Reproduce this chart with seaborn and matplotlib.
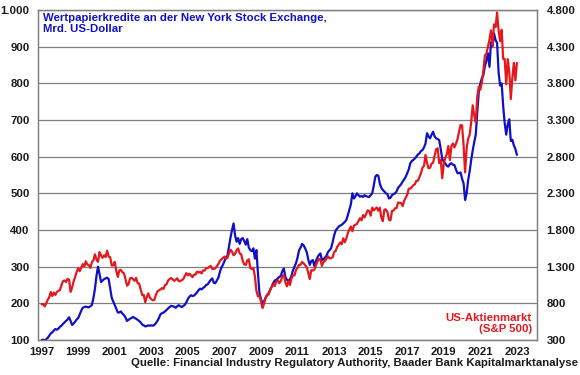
import numpy as np
import pandas as pd
import matplotlib
matplotlib.use("Agg")
import matplotlib.pyplot as plt
from matplotlib.ticker import FuncFormatter
import seaborn as sns

# Wertpapierkredite NYSE/FINRA, Mrd. US-Dollar (monatlich ab Jan 1997)
margin_debt = [
    100, 101, 99, 102, 106, 112, 118, 121, 126, 130, 128, 131,      # 1997
    136, 139, 144, 148, 152, 156, 162, 152, 141, 145, 150, 156,     # 1998
    160, 170, 180, 188, 190, 191, 190, 189, 192, 196, 215, 240,     # 1999
    275, 300, 280, 258, 262, 266, 268, 270, 266, 240, 215, 205,     # 2000
    195, 185, 175, 175, 178, 172, 168, 162, 152, 155, 158, 160,     # 2001
    163, 160, 158, 155, 152, 148, 142, 140, 137, 138, 140, 139,     # 2002
    140, 139, 141, 146, 152, 160, 170, 173, 175, 178, 182, 186,     # 2003
    190, 193, 192, 191, 188, 192, 195, 192, 190, 193, 196, 203,     # 2004
    212, 218, 222, 220, 221, 225, 230, 236, 240, 238, 242, 245,     # 2005
    250, 252, 258, 264, 268, 256, 255, 262, 270, 285, 298, 305,     # 2006
    315, 325, 330, 355, 380, 400, 418, 385, 368, 378, 362, 375,     # 2007
    378, 370, 360, 375, 352, 345, 342, 350, 322, 345, 282, 228,     # 2008
    212, 200, 205, 215, 222, 228, 236, 245, 255, 262, 264, 268,     # 2009
    272, 275, 288, 295, 272, 264, 262, 265, 275, 290, 300, 310,     # 2010
    325, 345, 352, 362, 358, 350, 340, 320, 305, 315, 318, 302,     # 2011
    315, 325, 332, 336, 318, 320, 325, 330, 340, 345, 350, 366,     # 2012
    385, 398, 404, 409, 412, 414, 418, 422, 427, 440, 455, 470,     # 2013
    500, 486, 492, 500, 495, 491, 493, 490, 495, 492, 491, 490,     # 2014
    495, 500, 520, 545, 550, 548, 527, 515, 509, 505, 500, 498,     # 2015
    486, 488, 495, 498, 500, 505, 515, 520, 525, 532, 538, 545,     # 2016
    555, 565, 582, 588, 591, 595, 600, 606, 609, 615, 618, 625,     # 2017
    636, 664, 655, 650, 660, 668, 655, 650, 648, 645, 620, 595,     # 2018
    585, 582, 575, 573, 580, 582, 578, 577, 565, 555, 555, 557,     # 2019
    540, 527, 482, 500, 536, 560, 591, 617, 640, 660, 722, 778,     # 2020
    799, 814, 823, 847, 862, 882, 845, 912, 901, 936, 918, 910,     # 2021
    829, 794, 800, 738, 691, 660, 688, 702, 643, 646, 631, 621,     # 2022
    605,                                                            # 2023
]

# S&P 500, Monatsende (rechte Achse)
sp500 = [
    786, 791, 757, 801, 848, 885, 954, 899, 947, 915, 955, 970,
    980, 1049, 1102, 1112, 1091, 1134, 1121, 957, 1017, 1099, 1164, 1229,
    1280, 1238, 1286, 1335, 1302, 1373, 1329, 1320, 1283, 1363, 1389, 1469,
    1394, 1366, 1499, 1452, 1421, 1455, 1431, 1518, 1437, 1429, 1315, 1320,
    1366, 1240, 1160, 1249, 1256, 1224, 1211, 1134, 1041, 1060, 1139, 1148,
    1130, 1107, 1147, 1077, 1067, 990, 912, 916, 815, 886, 936, 880,
    856, 841, 848, 917, 964, 975, 990, 1008, 996, 1051, 1058, 1112,
    1131, 1145, 1126, 1107, 1121, 1141, 1102, 1104, 1115, 1130, 1174, 1212,
    1181, 1204, 1181, 1157, 1192, 1191, 1234, 1220, 1229, 1207, 1249, 1248,
    1280, 1281, 1295, 1311, 1270, 1270, 1277, 1304, 1336, 1378, 1401, 1418,
    1438, 1407, 1421, 1482, 1531, 1503, 1455, 1474, 1527, 1549, 1481, 1468,
    1379, 1331, 1323, 1386, 1400, 1280, 1267, 1283, 1165, 969, 896, 903,
    826, 735, 798, 873, 919, 919, 987, 1021, 1057, 1036, 1096, 1115,
    1074, 1104, 1169, 1187, 1089, 1031, 1102, 1049, 1141, 1183, 1181, 1258,
    1286, 1327, 1326, 1364, 1345, 1321, 1292, 1219, 1131, 1253, 1247, 1258,
    1312, 1366, 1408, 1398, 1310, 1362, 1379, 1407, 1441, 1412, 1416, 1426,
    1498, 1515, 1569, 1598, 1631, 1606, 1686, 1633, 1682, 1757, 1806, 1848,
    1783, 1859, 1872, 1884, 1924, 1960, 1931, 2003, 1972, 2018, 2068, 2059,
    1995, 2105, 2068, 2086, 2107, 2063, 2104, 1972, 1920, 2079, 2080, 2044,
    1940, 1932, 2060, 2065, 2097, 2099, 2174, 2171, 2168, 2126, 2199, 2239,
    2279, 2364, 2363, 2384, 2412, 2423, 2470, 2472, 2519, 2575, 2648, 2674,
    2824, 2714, 2641, 2648, 2705, 2718, 2816, 2902, 2914, 2712, 2760, 2507,
    2704, 2784, 2834, 2946, 2752, 2942, 2980, 2926, 2977, 3038, 3141, 3231,
    3226, 2954, 2585, 2912, 3044, 3100, 3271, 3500, 3363, 3270, 3622, 3756,
    3714, 3811, 3973, 4181, 4204, 4298, 4395, 4523, 4308, 4605, 4567, 4766,
    4516, 4374, 4530, 4132, 4132, 3785, 4130, 3955, 3586, 3872, 4080, 3840,
    4077,
]

year_ticks = list(range(1997, 2024, 2))
left_ticks = list(range(100, 1001, 100))
right_ticks = list(range(300, 4801, 500))

dates = pd.date_range("1997-01-01", periods=len(margin_debt), freq="MS")
df = pd.DataFrame({
    "jahr": dates.year + (dates.month - 1) / 12,
    "kredite": margin_debt,
    "spx": sp500,
})

sns.set_style("white")
plt.rcParams["font.family"] = ["Liberation Sans", "DejaVu Sans"]
plt.rcParams["font.weight"] = "bold"

blue = "#1010c4"
red = "#e3191e"
grid_col = "#7f7f7f"
fs = 8.2

fig = plt.figure(figsize=(5.8, 3.75), dpi=100)
ax = fig.add_axes([38 / 580, 35 / 375, 499 / 580, 330 / 375])
ax2 = ax.twinx()

sns.lineplot(data=df, x="jahr", y="kredite", ax=ax, color=blue, linewidth=1.6)
sns.lineplot(data=df, x="jahr", y="spx", ax=ax2, color=red, linewidth=1.6)

ax.set_xlim(1996.8, 2024.1)
ax.set_ylim(100, 1000)
ax2.set_ylim(300, 4800)

fmt = FuncFormatter(lambda v, p: f"{v:,.0f}".replace(",", "."))
ax.set_yticks(left_ticks)
ax2.set_yticks(right_ticks)
ax.yaxis.set_major_formatter(fmt)
ax2.yaxis.set_major_formatter(fmt)
ax.set_xticks(year_ticks)
ax.set_xticklabels([str(y) for y in year_ticks])

ax.grid(axis="y", color=grid_col, linewidth=0.9)
ax.grid(axis="x", visible=False)
ax2.grid(False)

for a in (ax, ax2):
    for s in a.spines.values():
        s.set_color(grid_col)
        s.set_linewidth(0.9)
    a.set_xlabel("")
    a.set_ylabel("")

ax.tick_params(axis="y", length=0, pad=6, labelsize=fs, colors="#1a1a1a")
ax2.tick_params(axis="y", length=0, pad=7, labelsize=fs, colors="#1a1a1a")
ax.tick_params(axis="x", length=3, width=0.9, color=grid_col, pad=2,
               labelsize=fs, labelcolor="#1a1a1a", direction="out")
for lab in ax.get_xticklabels() + ax.get_yticklabels() + ax2.get_yticklabels():
    lab.set_fontweight("bold")

ax.text(0.011, 0.99, "Wertpapierkredite an der New York Stock Exchange,\nMrd. US-Dollar",
        transform=ax.transAxes, ha="left", va="top", color=blue,
        fontsize=fs, fontweight="bold", linespacing=1.05)
ax.text(0.99, 0.018, "US-Aktienmarkt\n(S&P 500)", transform=ax.transAxes,
        ha="right", va="bottom", multialignment="right", color=red,
        fontsize=fs, fontweight="bold", linespacing=1.1)
fig.text(0.997, 0.032,
         "Quelle: Financial Industry Regulatory Authority, Baader Bank Kapitalmarktanalyse",
         ha="right", va="center", color="#1a1a1a", fontsize=fs, fontweight="bold")

fig.savefig("out.png", dpi=100)
